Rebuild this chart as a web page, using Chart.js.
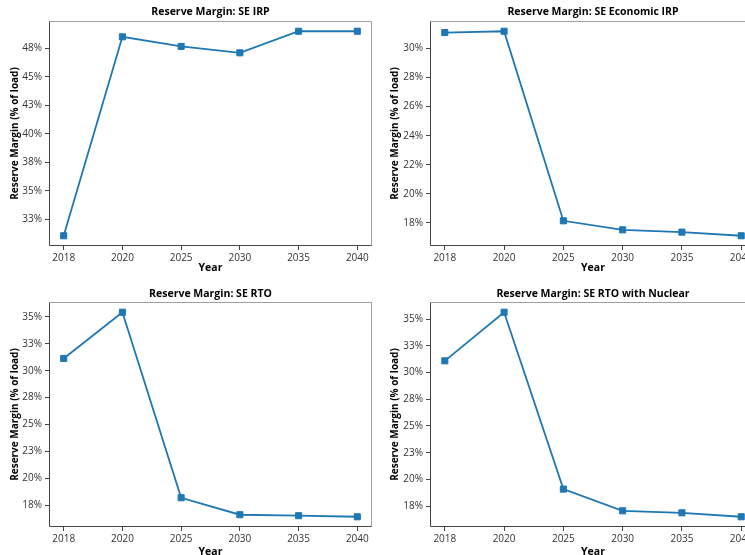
<!DOCTYPE html>
<html>
<head>
<meta charset="utf-8">
<script src="https://cdn.jsdelivr.net/npm/chart.js@4/dist/chart.umd.min.js"></script>
<style>
  html, body { margin: 0; padding: 0; background: #fff; overflow: hidden; width: 745px; height: 555px; }
  canvas { position: absolute; }
</style>
</head>
<body>
<canvas id="rmIrp" width="380" height="280" style="left:0;top:0"></canvas>
<canvas id="rmEcon" width="384" height="280" style="left:380px;top:0"></canvas>
<canvas id="rmRto" width="380" height="284" style="left:0;top:280px"></canvas>
<canvas id="rmNuc" width="384" height="284" style="left:380px;top:280px"></canvas>
<script>
// Study years along the horizontal axis
const years = ['2018', '2020', '2025', '2030', '2035', '2040'];

// Reserve margin (% of load) for each scenario
const seIrp         = [31.08, 48.49, 47.65, 47.09, 48.98, 48.98];
const seEconomicIrp = [31.10, 31.19, 18.14, 17.52, 17.36, 17.11];
const seRto         = [31.14, 35.44, 18.18, 16.60, 16.51, 16.41];
const seRtoNuclear  = [31.10, 35.65, 19.09, 17.06, 16.87, 16.50];

// Y-axis tick positions (labels are rounded to whole percents)
const ticksIrp  = [32.5, 35, 37.5, 40, 42.5, 45, 47.5];
const ticksEcon = [18, 20, 22, 24, 26, 28, 30];
const ticksRto  = [17.5, 20, 22.5, 25, 27.5, 30, 32.5, 35];

const FONT = "'Open Sans', 'Noto Sans', sans-serif";
const LINE = '#1f77b4';
const AXIS = '#444444';
const EDGE = '#a0a0a0';

// Frame around the plot area: darker left/bottom spines, lighter top/right
const framePlugin = {
  id: 'frame',
  afterDraw(chart) {
    const { ctx, chartArea: a } = chart;
    const l = Math.round(a.left) + 0.5, r = Math.round(a.right) - 0.5;
    const t = Math.round(a.top) + 0.5, b = Math.round(a.bottom) - 0.5;
    ctx.save();
    ctx.lineWidth = 1;
    ctx.strokeStyle = EDGE;
    ctx.beginPath();
    ctx.moveTo(l, t); ctx.lineTo(r, t); ctx.lineTo(r, b);
    ctx.stroke();
    ctx.strokeStyle = AXIS;
    ctx.beginPath();
    ctx.moveTo(l, t); ctx.lineTo(l, b); ctx.lineTo(r, b);
    ctx.stroke();
    ctx.restore();
  }
};

function makeChart(id, title, values, yTicks, opts) {
  const lo = Math.min(...values), hi = Math.max(...values);
  const pad = (hi - lo) * 0.05;
  new Chart(document.getElementById(id), {
    type: 'line',
    data: {
      datasets: [{
        data: values.map((v, i) => ({ x: i, y: v })),
        borderColor: LINE,
        backgroundColor: LINE,
        borderWidth: 1.8,
        pointStyle: 'rect',
        pointRadius: 4.3,
        pointBorderWidth: 1,
        pointBorderColor: LINE,
        pointBackgroundColor: LINE,
        tension: 0,
        clip: false
      }]
    },
    options: {
      responsive: false,
      animation: false,
      devicePixelRatio: 1,
      layout: { padding: { left: 0, right: 8, top: 0, bottom: 0 } },
      plugins: {
        legend: { display: false },
        tooltip: { enabled: false },
        title: {
          display: true,
          text: title,
          fullSize: false,
          color: '#000',
          font: { family: FONT, size: 10.5, weight: 'bold', lineHeight: 1.2 },
          padding: opts.titlePad
        }
      },
      scales: {
        x: {
          type: 'linear',
          min: -0.25,
          max: years.length - 0.75,
          afterBuildTicks(scale) { scale.ticks = years.map((_, i) => ({ value: i })); },
          afterFit(scale) { scale.height = opts.xHeight; },
          ticks: {
            color: '#333',
            font: { family: FONT, size: 10 },
            padding: 2,
            maxRotation: 0,
            autoSkip: false,
            callback: (v) => years[v]
          },
          grid: { display: true, drawOnChartArea: false, drawTicks: true, tickLength: 4, color: AXIS },
          border: { display: false },
          title: {
            display: true, text: 'Year', color: '#000',
            font: { family: FONT, size: 10.5, weight: 'bold', lineHeight: 1.2 },
            padding: { top: 0, bottom: 6 }
          }
        },
        y: {
          type: 'linear',
          min: lo - pad,
          max: hi + pad,
          afterBuildTicks(scale) { scale.ticks = yTicks.map(v => ({ value: v })); },
          afterFit(scale) { scale.width = opts.yWidth; },
          ticks: {
            color: '#333',
            font: { family: FONT, size: 10 },
            padding: 3,
            callback: (v) => Math.round(v) + '%'
          },
          grid: { display: true, drawOnChartArea: false, drawTicks: true, tickLength: 4, color: AXIS },
          border: { display: false },
          title: {
            display: true, text: 'Reserve Margin (% of load)', color: '#000',
            font: { family: FONT, size: 10, weight: 'bold', lineHeight: 1.2 },
            padding: { top: 9, bottom: 0 }
          }
        }
      }
    },
    plugins: [framePlugin]
  });
}

makeChart('rmIrp', 'Reserve Margin: SE IRP', seIrp, ticksIrp,
  { titlePad: { top: 6, bottom: 2.4 }, xHeight: 34, yWidth: 49 });
makeChart('rmEcon', 'Reserve Margin: SE Economic IRP', seEconomicIrp, ticksEcon,
  { titlePad: { top: 6, bottom: 2.4 }, xHeight: 34, yWidth: 50 });
makeChart('rmRto', 'Reserve Margin: SE RTO', seRto, ticksRto,
  { titlePad: { top: 8, bottom: 1.4 }, xHeight: 37, yWidth: 49 });
makeChart('rmNuc', 'Reserve Margin: SE RTO with Nuclear', seRtoNuclear, ticksRto,
  { titlePad: { top: 8, bottom: 1.4 }, xHeight: 37, yWidth: 50 });
</script>
</body>
</html>
